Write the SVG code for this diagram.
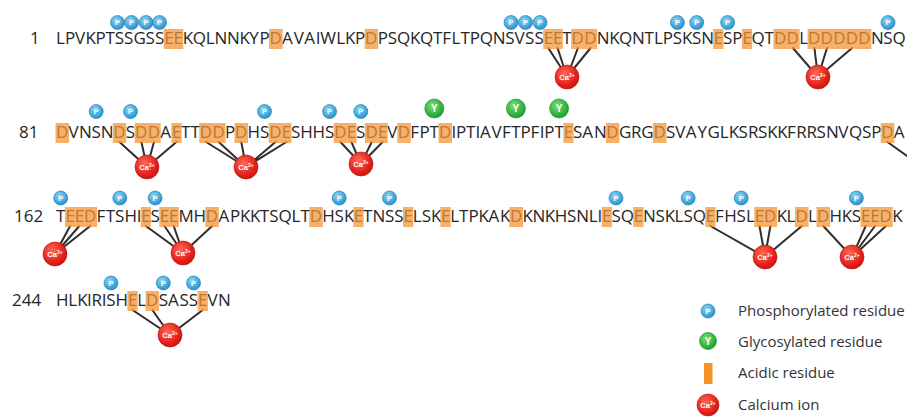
<svg xmlns="http://www.w3.org/2000/svg" width="907" height="419" viewBox="0 0 907 419">
<style>
.seq{font-family:"Open Sans","Liberation Sans",sans-serif;font-size:17px;fill:#262626}
.hl rect{fill:#f39436;opacity:.74}
.con path{stroke:#2e2e2e;stroke-width:2;stroke-linecap:round;fill:none}
.p circle{fill:url(#gP);stroke:#1479b0;stroke-width:.6}
.p text{font-family:"Liberation Sans",sans-serif;font-size:7.5px;font-weight:bold;fill:#fff;text-anchor:middle}
.y circle{fill:url(#gY);stroke:#0f8a25;stroke-width:.6}
.y text{font-family:"Liberation Sans",sans-serif;font-size:10px;font-weight:bold;fill:#fff;text-anchor:middle}
.ca circle{fill:url(#gCa);stroke:#b8120d;stroke-width:.6}
.ca text{font-family:"Liberation Sans",sans-serif;font-size:7.5px;font-weight:bold;fill:#fff;text-anchor:middle}
.ca .sup{font-size:5px}
.lbl{font-family:"Open Sans","Liberation Sans",sans-serif;font-size:15px;fill:#333}
</style>
<defs>
<radialGradient id="gP" cx="40%" cy="35%" r="70%"><stop offset="0" stop-color="#8fd6f6"/><stop offset="1" stop-color="#1b8fcc"/></radialGradient>
<radialGradient id="gY" cx="40%" cy="35%" r="70%"><stop offset="0" stop-color="#7ddf72"/><stop offset="1" stop-color="#139b2c"/></radialGradient>
<radialGradient id="gCa" cx="40%" cy="35%" r="70%"><stop offset="0" stop-color="#ff6b55"/><stop offset=".7" stop-color="#e3201b"/><stop offset="1" stop-color="#c3140f"/></radialGradient>
</defs>

<g id="connectors" class="con">
<path d="M548.3 48L567 77M557.6 48L567 77M577.9 48L567 77M590.5 48L567 77"/>
<path d="M792.9 48L818 77M814.4 48L818 77M827 48L818 77M852.1 48L818 77"/>
<path d="M119.5 142L147 167M141.4 142L147 167M154 142L147 167M176.4 142L147 167"/>
<path d="M206.1 142L246 167M218.7 142L246 167M241.3 142L246 167M275.5 142L246 167M286.4 142L246 167"/>
<path d="M340.5 142L361 164M351.4 142L361 164M371.7 142L361 164M382.6 142L361 164"/>
<path d="M887.5 142L907 156"/>
<path d="M70.1 226L55 254M79.3 226L55 254M90.2 226L55 254"/>
<path d="M145.8 226L183 253M164.4 226L183 253M173.7 226L183 253M212.1 226L183 253"/>
<path d="M710.4 226L765 257M759.5 226L765 257M770.4 226L765 257M801.8 226L765 257"/>
<path d="M823.3 226L852 257M865.7 226L852 257M875 226L852 257M885.9 226L852 257"/>
<path d="M132.5 310L170 335M152.4 310L170 335M202.7 310L170 335"/>
</g>

<g id="row1">
<text class="seq" x="30" y="44">1</text>
<text class="seq" y="44" x="56.0 64.9 74.9 85.5 95.4 105.4 114.8 124.1 133.4 145.6 154.9 164.2 173.5 182.8 192.7 205.7 214.6 227.0 239.4 249.3 259.5 269.6 282.1 293.7 304.2 315.8 320.3 336.2 345.1 355.1 365.1 377.7 387.7 397.0 410.0 419.9 432.9 442.3 451.5 460.4 469.8 479.8 492.8 505.2 514.5 525.1 534.4 543.7 552.9 562.2 571.6 584.2 596.7 609.2 619.1 632.1 644.5 653.9 662.8 672.8 682.1 692.0 701.3 713.7 723.0 732.3 742.4 751.6 764.6 774.0 786.6 799.2 808.1 820.6 833.2 845.8 858.3 870.9 883.3 892.6">LPVKPTSSGSSEEKQLNNKYPDAVAIWLKPDPSQKQTFLTPQNSVSSEETDDNKQNTLPSKSNESPEQTDDLDDDDDNSQ</text>
</g>
<g id="row2">
<text class="seq" x="19" y="138">81</text>
<text class="seq" y="138" x="56.0 68.6 79.1 91.5 100.8 113.2 125.8 135.1 147.7 160.2 171.8 181.1 190.4 199.8 212.4 225.0 235.0 247.6 259.9 269.2 281.7 291.0 300.3 312.6 324.9 334.2 346.8 356.1 365.4 378.0 387.2 397.8 410.3 419.5 429.6 439.0 451.5 456.0 466.1 475.4 480.0 491.5 502.0 511.2 520.6 530.6 539.8 544.3 554.4 563.8 573.0 582.3 593.9 606.3 618.9 631.1 641.2 653.4 666.0 675.3 685.8 697.4 707.6 719.8 728.7 738.6 747.9 758.0 767.3 777.2 787.1 796.3 806.5 816.6 825.9 838.3 848.9 861.9 871.2 881.2 893.8">DVNSNDSDDAETTDDPDHSDESHHSDESDEVDFPTDIPTIAVFTPFIPTESANDGRGDSVAYGLKSRSKKFRRSNVQSPDA</text>
</g>
<g id="row3">
<text class="seq" x="14" y="222">162</text>
<text class="seq" y="222" x="56.0 65.4 74.7 84.0 96.5 105.7 115.1 124.4 136.7 141.2 150.5 159.8 169.1 178.4 193.5 205.8 218.4 229.9 240.0 249.9 259.8 269.2 278.5 291.5 300.4 309.8 322.3 334.6 343.9 353.8 363.1 372.5 384.9 394.2 403.5 412.8 421.7 431.0 440.9 450.2 459.1 468.5 478.5 488.4 500.0 509.9 522.5 532.4 544.8 554.7 567.0 576.3 588.7 597.6 602.1 611.4 620.7 633.7 643.0 655.4 664.7 674.6 683.5 692.8 705.8 715.1 724.3 736.6 745.9 754.8 764.1 776.7 786.6 795.5 808.1 817.0 829.5 841.8 851.7 861.0 870.3 879.6 892.2">TEEDFTSHIESEEMHDAPKKTSQLTDHSKETNSSELSKELTPKAKDKNKHSNLIESQENSKLSQEFHSLEDKLDLDHKSEEDK</text>
</g>
<g id="row4">
<text class="seq" x="12" y="306">244</text>
<text class="seq" y="306" x="56.0 68.3 77.2 87.1 91.6 101.8 106.3 115.6 127.9 137.2 146.1 158.7 168.0 179.5 188.8 198.1 207.4 217.9">HLKIRISHELDSASSEVN</text>
</g>

<g id="acidic-highlights" class="hl">
<rect x="163.7" y="29" width="19.6" height="20"/>
<rect x="269.1" y="29" width="13.5" height="20"/>
<rect x="364.6" y="29" width="13.6" height="20"/>
<rect x="543.2" y="29" width="19.5" height="20"/>
<rect x="571.1" y="29" width="26.1" height="20"/>
<rect x="713.2" y="29" width="10.3" height="20"/>
<rect x="741.9" y="29" width="10.2" height="20"/>
<rect x="773.5" y="29" width="26.2" height="20"/>
<rect x="807.6" y="29" width="63.8" height="20"/>

<rect x="55.5" y="123" width="13.6" height="20"/>
<rect x="112.7" y="123" width="13.6" height="20"/>
<rect x="134.6" y="123" width="26.1" height="20"/>
<rect x="171.3" y="123" width="10.3" height="20"/>
<rect x="199.3" y="123" width="26.2" height="20"/>
<rect x="234.5" y="123" width="13.6" height="20"/>
<rect x="268.7" y="123" width="22.8" height="20"/>
<rect x="333.7" y="123" width="22.9" height="20"/>
<rect x="364.9" y="123" width="22.8" height="20"/>
<rect x="397.3" y="123" width="13.5" height="20"/>
<rect x="438.5" y="123" width="13.5" height="20"/>
<rect x="563.3" y="123" width="10.2" height="20"/>
<rect x="605.8" y="123" width="13.6" height="20"/>
<rect x="652.9" y="123" width="13.6" height="20"/>
<rect x="880.7" y="123" width="13.6" height="20"/>

<rect x="64.9" y="207" width="32.1" height="20"/>
<rect x="140.7" y="207" width="10.3" height="20"/>
<rect x="159.3" y="207" width="19.6" height="20"/>
<rect x="205.3" y="207" width="13.6" height="20"/>
<rect x="309.3" y="207" width="13.5" height="20"/>
<rect x="353.3" y="207" width="10.3" height="20"/>
<rect x="403.0" y="207" width="10.3" height="20"/>
<rect x="440.4" y="207" width="10.3" height="20"/>
<rect x="509.4" y="207" width="13.6" height="20"/>
<rect x="601.6" y="207" width="10.3" height="20"/>
<rect x="633.2" y="207" width="10.3" height="20"/>
<rect x="705.3" y="207" width="10.3" height="20"/>
<rect x="754.3" y="207" width="22.9" height="20"/>
<rect x="795.0" y="207" width="13.6" height="20"/>
<rect x="816.5" y="207" width="13.5" height="20"/>
<rect x="860.5" y="207" width="32.2" height="20"/>

<rect x="127.4" y="291" width="10.3" height="20"/>
<rect x="145.6" y="291" width="13.6" height="20"/>
<rect x="197.6" y="291" width="10.3" height="20"/>
</g>

<g id="phospho">
<g class="p" transform="translate(117.5,22.5)"><circle r="7"/><text y="2.6">P</text></g>
<g class="p" transform="translate(131.5,22.5)"><circle r="7"/><text y="2.6">P</text></g>
<g class="p" transform="translate(146,22.5)"><circle r="7"/><text y="2.6">P</text></g>
<g class="p" transform="translate(159.5,22.5)"><circle r="7"/><text y="2.6">P</text></g>
<g class="p" transform="translate(511,22.5)"><circle r="7"/><text y="2.6">P</text></g>
<g class="p" transform="translate(525.5,22.5)"><circle r="7"/><text y="2.6">P</text></g>
<g class="p" transform="translate(540,22.5)"><circle r="7"/><text y="2.6">P</text></g>
<g class="p" transform="translate(677.4,22.5)"><circle r="7"/><text y="2.6">P</text></g>
<g class="p" transform="translate(696.7,22.5)"><circle r="7"/><text y="2.6">P</text></g>
<g class="p" transform="translate(727.6,22.5)"><circle r="7"/><text y="2.6">P</text></g>
<g class="p" transform="translate(888,22.5)"><circle r="7"/><text y="2.6">P</text></g>

<g class="p" transform="translate(96.2,111.5)"><circle r="7"/><text y="2.6">P</text></g>
<g class="p" transform="translate(130.5,111.5)"><circle r="7"/><text y="2.6">P</text></g>
<g class="p" transform="translate(264.5,111.5)"><circle r="7"/><text y="2.6">P</text></g>
<g class="p" transform="translate(329.6,111.5)"><circle r="7"/><text y="2.6">P</text></g>
<g class="p" transform="translate(360.8,111.5)"><circle r="7"/><text y="2.6">P</text></g>

<g class="p" transform="translate(60.7,198)"><circle r="7"/><text y="2.6">P</text></g>
<g class="p" transform="translate(119.8,198)"><circle r="7"/><text y="2.6">P</text></g>
<g class="p" transform="translate(155.1,198)"><circle r="7"/><text y="2.6">P</text></g>
<g class="p" transform="translate(339.2,198)"><circle r="7"/><text y="2.6">P</text></g>
<g class="p" transform="translate(389.5,198)"><circle r="7"/><text y="2.6">P</text></g>
<g class="p" transform="translate(616,198)"><circle r="7"/><text y="2.6">P</text></g>
<g class="p" transform="translate(688.2,198)"><circle r="7"/><text y="2.6">P</text></g>
<g class="p" transform="translate(741.2,198)"><circle r="7"/><text y="2.6">P</text></g>
<g class="p" transform="translate(856.4,198)"><circle r="7"/><text y="2.6">P</text></g>

<g class="p" transform="translate(111,283)"><circle r="7"/><text y="2.6">P</text></g>
<g class="p" transform="translate(163.3,283)"><circle r="7"/><text y="2.6">P</text></g>
<g class="p" transform="translate(193.5,283)"><circle r="7"/><text y="2.6">P</text></g>
</g>

<g id="glyco">
<g class="y" transform="translate(434.3,108.5)"><circle r="9.5"/><text y="3.6">Y</text></g>
<g class="y" transform="translate(515.9,108.5)"><circle r="9.5"/><text y="3.6">Y</text></g>
<g class="y" transform="translate(559.1,108.5)"><circle r="9.5"/><text y="3.6">Y</text></g>
</g>

<g id="ca-1" class="ca" transform="translate(567,77)"><circle r="12"/><text y="2.6">Ca<tspan class="sup" dy="-2.6">2+</tspan></text></g>
<g id="ca-2" class="ca" transform="translate(818,77)"><circle r="12"/><text y="2.6">Ca<tspan class="sup" dy="-2.6">2+</tspan></text></g>
<g id="ca-3" class="ca" transform="translate(147,167)"><circle r="12"/><text y="2.6">Ca<tspan class="sup" dy="-2.6">2+</tspan></text></g>
<g id="ca-4" class="ca" transform="translate(246,167)"><circle r="12"/><text y="2.6">Ca<tspan class="sup" dy="-2.6">2+</tspan></text></g>
<g id="ca-5" class="ca" transform="translate(361,164)"><circle r="12"/><text y="2.6">Ca<tspan class="sup" dy="-2.6">2+</tspan></text></g>
<g id="ca-6" class="ca" transform="translate(55,254)"><circle r="12"/><text y="2.6">Ca<tspan class="sup" dy="-2.6">2+</tspan></text></g>
<g id="ca-7" class="ca" transform="translate(183,253)"><circle r="12"/><text y="2.6">Ca<tspan class="sup" dy="-2.6">2+</tspan></text></g>
<g id="ca-8" class="ca" transform="translate(765,257)"><circle r="12"/><text y="2.6">Ca<tspan class="sup" dy="-2.6">2+</tspan></text></g>
<g id="ca-9" class="ca" transform="translate(852,257)"><circle r="12"/><text y="2.6">Ca<tspan class="sup" dy="-2.6">2+</tspan></text></g>
<g id="ca-10" class="ca" transform="translate(170,335)"><circle r="12"/><text y="2.6">Ca<tspan class="sup" dy="-2.6">2+</tspan></text></g>

<g id="legend">
<g class="p" transform="translate(708,311)"><circle r="7"/><text y="2.6">P</text></g>
<g class="y" transform="translate(708,341)"><circle r="8.5"/><text y="3.5">Y</text></g>
<rect x="704" y="363" width="8.5" height="21" fill="#f5922a"/>
<g class="ca" transform="translate(708,405)"><circle r="11"/><text y="2.6">Ca<tspan class="sup" dy="-2.6">2+</tspan></text></g>
<text class="lbl" x="738" y="316">Phosphorylated residue</text>
<text class="lbl" x="738" y="347">Glycosylated residue</text>
<text class="lbl" x="738" y="378">Acidic residue</text>
<text class="lbl" x="738" y="410">Calcium ion</text>
</g>
</svg>
